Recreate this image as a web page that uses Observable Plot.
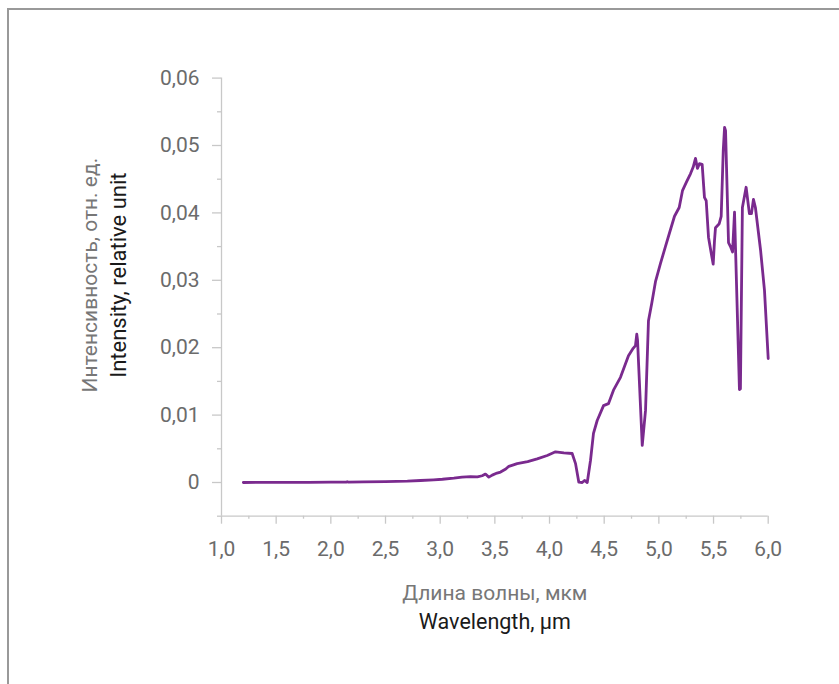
<!DOCTYPE html>
<html>
<head>
<meta charset="utf-8">
<script src="https://cdn.jsdelivr.net/npm/d3@7"></script>
<script src="https://cdn.jsdelivr.net/npm/@observablehq/plot@0.6"></script>
<style>
  body { margin: 0; background: #fff; }
  #wrap { position: relative; width: 839px; height: 684px; overflow: hidden; background: #fff; }
  #frame { position: absolute; left: 7px; top: 8px; width: 1000px; height: 1000px;
           border-left: 2px solid #999; border-top: 2px solid #999; }
  #chart { position: absolute; left: 0; top: 0; }
</style>
</head>
<body>
<div id="wrap"><div id="frame"></div><div id="chart"></div></div>
<script>
// Spectrum: wavelength (µm) and relative intensity
const wavelength = [
  1.20, 1.40, 1.60, 1.80, 2.00, 2.14, 2.15, 2.16, 2.30, 2.50, 2.70, 2.82, 2.94, 3.02,
  3.125, 3.20, 3.277, 3.34, 3.384, 3.414, 3.445, 3.476, 3.52, 3.552, 3.60, 3.628, 3.67,
  3.704, 3.80, 3.887, 3.979, 4.055, 4.131, 4.207, 4.238, 4.268, 4.299, 4.320, 4.345,
  4.375, 4.402, 4.436, 4.494, 4.539, 4.585, 4.649, 4.722, 4.765, 4.786, 4.798, 4.805,
  4.848, 4.878, 4.905, 4.935, 4.969, 5.015, 5.06, 5.106, 5.143, 5.186, 5.216, 5.253,
  5.289, 5.314, 5.335, 5.353, 5.371, 5.396, 5.417, 5.433, 5.454, 5.479, 5.497, 5.509,
  5.518, 5.552, 5.570, 5.589, 5.601, 5.610, 5.637, 5.655, 5.674, 5.692, 5.737, 5.746,
  5.764, 5.798, 5.828, 5.847, 5.865, 5.883, 5.93, 5.966, 6.00
];
const intensity = [
  0.00000, 0.00001, 0.00002, 0.00003, 0.00005, 0.00006, 0.00012, 0.00006, 0.00008, 0.00012,
  0.00020, 0.00030, 0.00040, 0.00048,
  0.00065, 0.00080, 0.00088, 0.00082, 0.00100, 0.00125, 0.00080, 0.00110, 0.00140, 0.00155,
  0.00200, 0.00240, 0.00262,
  0.00280, 0.00310, 0.00350, 0.00400, 0.00455, 0.00440, 0.00430, 0.00280, 0.00005, 0.00000,
  0.00030, 0.00000,
  0.00330, 0.00730, 0.00920, 0.01140, 0.01170, 0.01370, 0.01560, 0.01880, 0.01990, 0.02030,
  0.02200, 0.02110,
  0.00550, 0.01070, 0.02400, 0.02660, 0.02980, 0.03250, 0.03500, 0.03750, 0.03950, 0.04080,
  0.04330, 0.04460,
  0.04580, 0.04680, 0.04810, 0.04660, 0.04730, 0.04720, 0.04230, 0.04180, 0.03640, 0.03400,
  0.03240, 0.03590,
  0.03780, 0.03840, 0.03950, 0.04930, 0.05270, 0.05220, 0.03560, 0.03500, 0.03420, 0.04010,
  0.01380, 0.01390,
  0.04080, 0.04380, 0.03990, 0.03990, 0.04200, 0.04080, 0.03450, 0.02850, 0.01840
];

const xMajorTicks = [1.0, 1.5, 2.0, 2.5, 3.0, 3.5, 4.0, 4.5, 5.0, 5.5, 6.0];
const xMinorTicks = [1.25, 1.75, 2.25, 2.75, 3.25, 3.75, 4.25, 4.75, 5.25, 5.75];
const yMajorTicks = [0, 0.01, 0.02, 0.03, 0.04, 0.05, 0.06];
const yMinorTicks = [-0.005, 0.005, 0.015, 0.025, 0.035, 0.045, 0.055];

const xTitleRu = "Длина волны, мкм";
const xTitleEn = "Wavelength, µm";
const yTitleRu = "Интенсивность, отн. ед.";
const yTitleEn = "Intensity, relative unit";

const data = wavelength.map((w, i) => ({w, v: intensity[i]}));
const axisColor = "#c8c8c8";
const labelColor = "#6b6b6b";
const font = "Roboto, 'Noto Sans', sans-serif";

const fmtX = d => d.toFixed(1).replace(".", ",");
const fmtY = d => d === 0 ? "0" : d.toFixed(2).replace(".", ",");

const chart = Plot.plot({
  width: 839,
  height: 684,
  marginLeft: 221,
  marginRight: 71.3,
  marginTop: 77.6,
  marginBottom: 168.3,
  style: {fontFamily: font, background: "transparent", overflow: "visible"},
  x: {domain: [1, 6]},
  y: {domain: [-0.005, 0.06]},
  marks: [
    Plot.axisX(xMinorTicks, {tickSize: 3, tickFormat: () => "", stroke: axisColor, strokeWidth: 1.3, label: null}),
    Plot.axisX(xMajorTicks, {tickSize: 8, tickPadding: 17, tickFormat: fmtX, fontSize: 21,
      fill: labelColor, stroke: axisColor, strokeWidth: 1.3, label: null}),
    Plot.axisY(yMinorTicks, {tickSize: 4, tickFormat: () => "", stroke: axisColor, strokeWidth: 1.3, label: null}),
    Plot.axisY(yMajorTicks, {tickSize: 9, tickPadding: 13, tickFormat: fmtY, fontSize: 21,
      fill: labelColor, stroke: axisColor, strokeWidth: 1.3, label: null}),
    Plot.ruleX([1], {stroke: axisColor, strokeWidth: 1.3}),
    Plot.ruleY([-0.005], {stroke: axisColor, strokeWidth: 1.3}),
    Plot.line(data, {x: "w", y: "v", stroke: "#7a2a8e", strokeWidth: 2.8, strokeLinejoin: "round"}),
    Plot.text([xTitleRu], {text: d => d, frameAnchor: "bottom", lineAnchor: "middle", textAnchor: "middle",
      dy: 77, fontSize: 21, fill: "#777", fontFamily: font}),
    Plot.text([xTitleEn], {text: d => d, frameAnchor: "bottom", lineAnchor: "middle", textAnchor: "middle",
      dy: 106, fontSize: 21.5, fill: "#1a1a1a", fontFamily: font}),
    Plot.text([yTitleRu], {text: d => d, frameAnchor: "left", lineAnchor: "middle", textAnchor: "middle",
      rotate: -90, dx: -131, dy: -22, fontSize: 21, fill: "#777", fontFamily: font}),
    Plot.text([yTitleEn], {text: d => d, frameAnchor: "left", lineAnchor: "middle", textAnchor: "middle",
      rotate: -90, dx: -103, dy: -22, fontSize: 22, fill: "#1a1a1a", fontFamily: font})
  ]
});
document.getElementById("chart").appendChild(chart);
</script>
</body>
</html>
